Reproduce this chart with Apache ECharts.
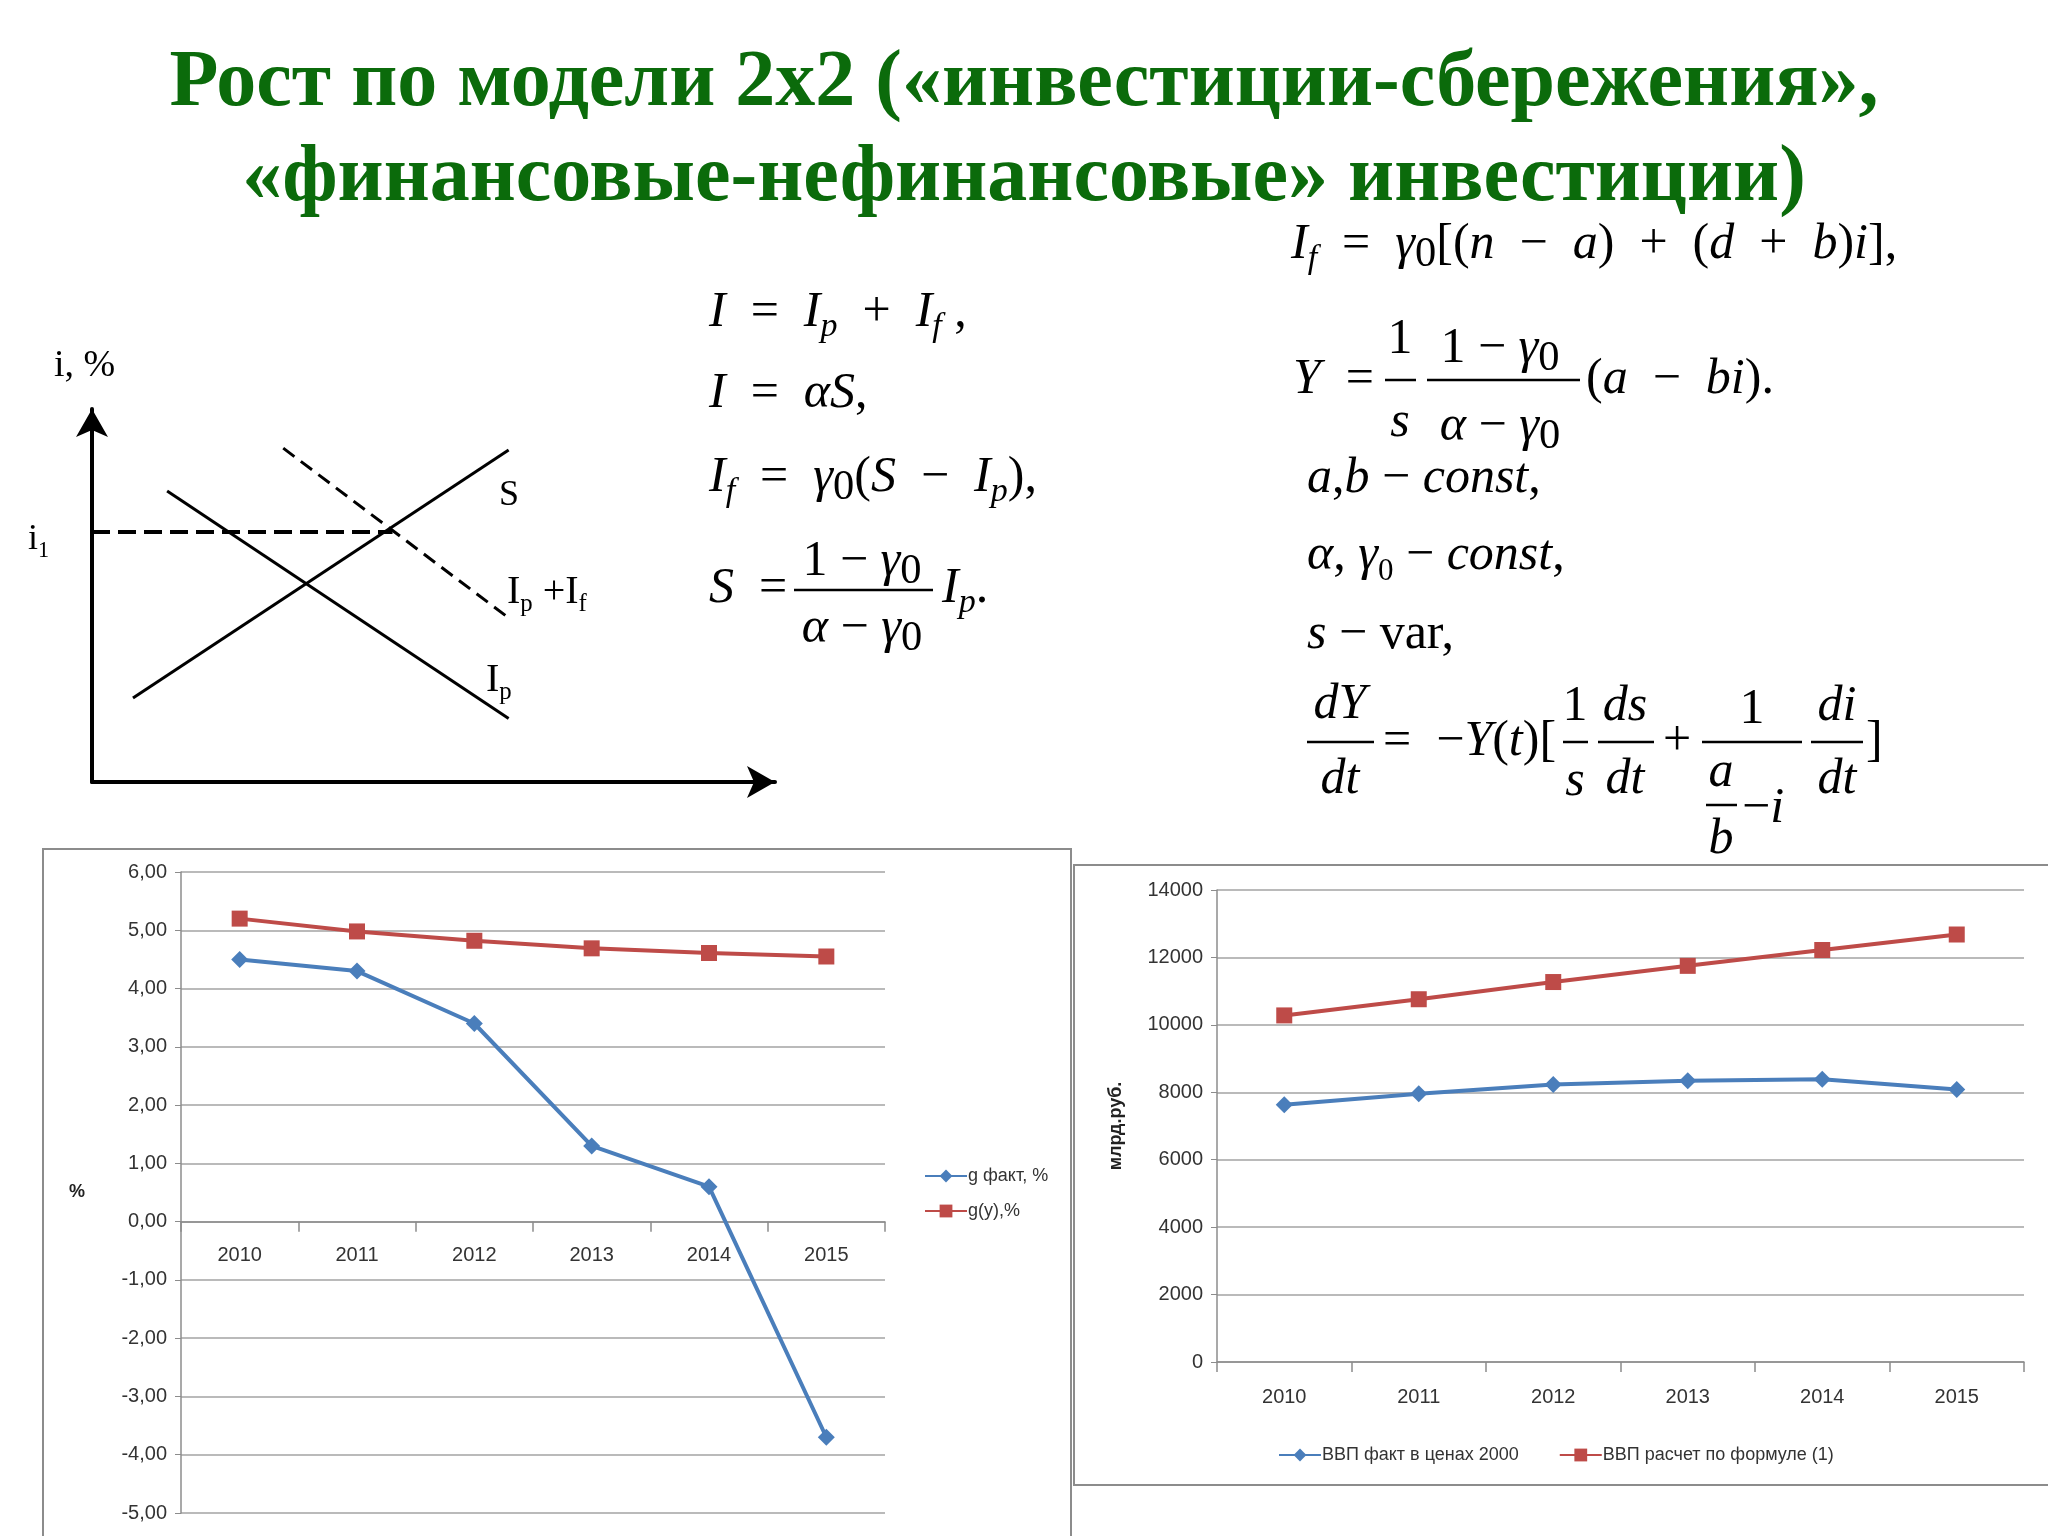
<!DOCTYPE html>
<html lang="ru">
<head>
  <meta charset="UTF-8">
  <title>Рост по модели 2x2</title>
  <style>
    * { margin: 0; padding: 0; box-sizing: border-box; }
    body { background: #fff; }
    #main { width: 2048px; height: 1536px; }
  </style>
</head>
<body>
  <div id="main"></div>

  <script src="https://cdn.jsdelivr.net/npm/echarts@6/dist/echarts.min.js"></script>
  <script>
    // данные графиков
    const years = ['2010', '2011', '2012', '2013', '2014', '2015'];
    const gFact = [4.5, 4.3, 3.4, 1.3, 0.6, -3.7];
    const gY = [5.2, 4.98, 4.82, 4.69, 4.61, 4.55];
    const gdpFact = [7630, 7960, 8230, 8340, 8390, 8080];
    const gdpCalc = [10280, 10760, 11270, 11750, 12220, 12680];

    // схема S / Ip / Ip+If (условные единицы 0..100)
    const sLine = [[6, 22.5], [61, 89]];
    const ipLine = [[11, 78], [61, 17]];
    const ipIfLine = [[28, 89.5], [61, 44]];
    const i1Line = [[0, 67], [44, 67]];

    const BLUE = '#4A7EBB';
    const RED = '#BE4B48';
    const GRID = '#a3a3a3';
    const F = "'Liberation Serif','Times New Roman',serif";
    const SANS = "'Liberation Sans', Arial, sans-serif";
    const E = '\u2002'; // широкий пробел вокруг знаков

    function rich(sz) {
      const base = { fontFamily: F, fontSize: sz, lineHeight: sz * 1.25, color: '#000' };
      return {
        i:  { ...base, fontStyle: 'italic' },
        n:  { ...base },
        sb: { fontFamily: F, fontStyle: 'italic', fontSize: sz * 0.68, lineHeight: sz * 0.6, verticalAlign: 'bottom', color: '#000' },
        sn: { fontFamily: F, fontSize: sz * 0.62, lineHeight: sz * 0.58, verticalAlign: 'bottom', color: '#000' },
        z:  { fontFamily: F, fontSize: sz * 0.85, lineHeight: sz * 0.95, verticalAlign: 'bottom', color: '#000' }
      };
    }
    function tx(x, y, text, sz, align) {
      return { type: 'text', x: x, y: y, style: { text: text, rich: rich(sz), align: align || 'left', verticalAlign: 'middle' } };
    }
    function bar(x1, x2, y) {
      return { type: 'line', shape: { x1: x1, y1: y, x2: x2, y2: y }, style: { stroke: '#000', lineWidth: 2.5 } };
    }

    const FS = 50;
    const TITLE_FONT = "bold 80px 'Liberation Serif'";
    const graphics = [
      // заголовок
      { type: 'text', x: 1024, y: 84, style: { text: 'Рост по модели 2x2 («инвестиции-сбережения»,', font: TITLE_FONT, fill: '#0b6b0b', align: 'center', verticalAlign: 'middle' } },
      { type: 'text', x: 1024, y: 179, style: { text: '«финансовые-нефинансовые» инвестиции)', font: TITLE_FONT, fill: '#0b6b0b', align: 'center', verticalAlign: 'middle' } },

      // рамки графиков
      { type: 'rect', shape: { x: 43, y: 849, width: 1028, height: 700 }, style: { fill: 'none', stroke: '#8c8c8c', lineWidth: 2 } },
      { type: 'rect', shape: { x: 1074, y: 865, width: 980, height: 620 }, style: { fill: 'none', stroke: '#8c8c8c', lineWidth: 2 } },

      // подписи схемы
      tx(54, 366, '{n|i, %}', 38),
      tx(28, 540, '{n|i}{sn|1}', 36),
      tx(499, 496, '{n|S}', 36),
      tx(507, 592, '{n|I}{sn|p}{n| +I}{sn|f}', 40),
      tx(486, 680, '{n|I}{sn|p}', 40),

      // левая колонка формул
      tx(709, 313, `{i|I}{n|${E}=${E}}{i|I}{sb|p}{n|${E}+${E}}{i|I}{sb|f}{n| ,}`, FS),
      tx(709, 394, `{i|I}{n|${E}=${E}}{i|αS}{n|,}`, FS),
      tx(709, 478, `{i|I}{sb|f}{n|${E}=${E}}{i|γ}{z|0}{n|(}{i|S}{n|${E}−${E}}{i|I}{sb|p}{n|),}`, FS),
      tx(709, 589, `{i|S}{n|${E}=}`, FS),
      tx(862, 562, '{n|1 − }{i|γ}{z|0}', FS, 'center'),
      bar(794, 933, 590),
      tx(862, 629, '{i|α}{n| − }{i|γ}{z|0}', FS, 'center'),
      tx(942, 589, '{i|I}{sb|p}{n|.}', FS),

      // правая колонка формул
      tx(1291, 245, `{i|I}{sb|f}{n|${E}=${E}}{i|γ}{z|0}{n|[(}{i|n}{n|${E}−${E}}{i|a}{n|)${E}+${E}(}{i|d}{n|${E}+${E}}{i|b}{n|)}{i|i}{n|],}`, FS),
      tx(1293, 380, `{i|Y}{n|${E}=}`, FS),
      tx(1400, 340, '{n|1}', FS, 'center'),
      bar(1385, 1416, 380),
      tx(1400, 423, '{i|s}', FS, 'center'),
      tx(1500, 349, '{n|1 − }{i|γ}{z|0}', FS, 'center'),
      bar(1427, 1580, 380),
      tx(1500, 427, '{i|α}{n| − }{i|γ}{z|0}', FS, 'center'),
      tx(1586, 380, `{n|(}{i|a}{n|${E}−${E}}{i|bi}{n|).}`, FS),
      tx(1307, 479, '{i|a}{n|,}{i|b}{n| − }{i|const}{n|,}', FS),
      tx(1307, 556, '{i|α}{n|, }{i|γ}{sn|0}{n| − }{i|const}{n|,}', FS),
      tx(1307, 635, '{i|s}{n| − var,}', FS),

      tx(1340, 705, '{i|dY}', FS, 'center'),
      bar(1307, 1374, 742),
      tx(1340, 780, '{i|dt}', FS, 'center'),
      tx(1383, 742, `{n|=${E}−}{i|Y}{n|(}{i|t}{n|)[}`, FS),
      tx(1575, 707, '{n|1}', FS, 'center'),
      bar(1563, 1588, 742),
      tx(1575, 782, '{i|s}', FS, 'center'),
      tx(1625, 707, '{i|ds}', FS, 'center'),
      bar(1598, 1654, 742),
      tx(1625, 780, '{i|dt}', FS, 'center'),
      tx(1677, 742, '{n|+}', FS, 'center'),
      tx(1752, 710, '{n|1}', FS, 'center'),
      bar(1702, 1802, 742),
      tx(1721, 773, '{i|a}', FS, 'center'),
      bar(1706, 1737, 805),
      tx(1721, 840, '{i|b}', FS, 'center'),
      tx(1742, 809, '{n|−}{i|i}', FS),
      tx(1837, 707, '{i|di}', FS, 'center'),
      bar(1811, 1863, 742),
      tx(1837, 780, '{i|dt}', FS, 'center'),
      tx(1866, 742, '{n|]}', FS)
    ];

    const axisLabelStyle = { color: '#333', fontSize: 20, fontFamily: SANS };
    const grayLine = { show: true, onZero: false, lineStyle: { color: '#8c8c8c', width: 1.5 } };

    // сетка левого графика: ось X проходит по нулю
    const g1 = { left: 181, top: 872, width: 704, height: 641 };
    const g1Min = -5, g1Max = 6;
    const zeroOffset = -g1.height * (0 - g1Min) / (g1Max - g1Min);

    const chart = echarts.init(document.getElementById('main'));
    chart.setOption({
      animation: false,
      backgroundColor: '#fff',
      graphic: graphics,
      grid: [
        { left: 92, top: 409, width: 683, height: 373 },
        g1,
        { left: 1217, top: 890, width: 807, height: 472 }
      ],
      xAxis: [
        {
          gridIndex: 0, type: 'value', min: 0, max: 100,
          axisLine: { show: true, onZero: false, symbol: ['none', 'arrow'], symbolSize: [24, 28], lineStyle: { color: '#000', width: 4 } },
          axisTick: { show: false }, axisLabel: { show: false }, splitLine: { show: false }
        },
        {
          gridIndex: 1, type: 'category', data: years, offset: zeroOffset,
          axisLine: grayLine,
          axisTick: { show: true, length: 10, lineStyle: { color: '#8c8c8c', width: 1.5 } },
          axisLabel: { ...axisLabelStyle, margin: 24 }
        },
        {
          gridIndex: 2, type: 'category', data: years,
          axisLine: grayLine,
          axisTick: { show: true, length: 10, lineStyle: { color: '#8c8c8c', width: 1.5 } },
          axisLabel: { ...axisLabelStyle, margin: 25 }
        }
      ],
      yAxis: [
        {
          gridIndex: 0, type: 'value', min: 0, max: 100,
          axisLine: { show: true, onZero: false, symbol: ['none', 'arrow'], symbolSize: [24, 28], lineStyle: { color: '#000', width: 4 } },
          axisTick: { show: false }, axisLabel: { show: false }, splitLine: { show: false }
        },
        {
          gridIndex: 1, type: 'value', min: g1Min, max: g1Max, interval: 1,
          name: '%', nameLocation: 'middle', nameRotate: 0, nameGap: 96,
          nameTextStyle: { fontSize: 18, fontWeight: 'bold', color: '#222', fontFamily: SANS },
          axisLine: grayLine,
          axisTick: { show: true, length: 6, lineStyle: { color: '#8c8c8c' } },
          axisLabel: { ...axisLabelStyle, margin: 14, formatter: v => v.toFixed(2).replace('.', ',') },
          splitLine: { lineStyle: { color: GRID, width: 1.5 } }
        },
        {
          gridIndex: 2, type: 'value', min: 0, max: 14000, interval: 2000,
          name: 'млрд.руб.', nameLocation: 'middle', nameGap: 92,
          nameTextStyle: { fontSize: 18, fontWeight: 'bold', color: '#222', fontFamily: SANS },
          axisLine: grayLine,
          axisTick: { show: true, length: 6, lineStyle: { color: '#8c8c8c' } },
          axisLabel: { ...axisLabelStyle, margin: 14, formatter: v => String(v) },
          splitLine: { lineStyle: { color: GRID, width: 1.5 } }
        }
      ],
      legend: [
        {
          data: ['g факт, %', 'g(y),%'], orient: 'vertical', left: 919, top: 1162,
          itemGap: 17, itemWidth: 42, itemHeight: 16,
          textStyle: { fontSize: 18, color: '#333', fontFamily: SANS, padding: [0, 0, 0, -4] }
        },
        {
          data: ['ВВП факт в ценах 2000', 'ВВП расчет по формуле (1)'], orient: 'horizontal', left: 1273, top: 1441,
          itemGap: 40, itemWidth: 42, itemHeight: 16,
          textStyle: { fontSize: 18, color: '#333', fontFamily: SANS, padding: [0, 0, 0, -4] }
        }
      ],
      series: [
        // схема
        { type: 'line', xAxisIndex: 0, yAxisIndex: 0, data: sLine, showSymbol: false, lineStyle: { color: '#000', width: 3 } },
        { type: 'line', xAxisIndex: 0, yAxisIndex: 0, data: ipLine, showSymbol: false, lineStyle: { color: '#000', width: 3 } },
        { type: 'line', xAxisIndex: 0, yAxisIndex: 0, data: ipIfLine, showSymbol: false, lineStyle: { color: '#000', width: 3, type: [14, 8] } },
        { type: 'line', xAxisIndex: 0, yAxisIndex: 0, data: i1Line, showSymbol: false, lineStyle: { color: '#000', width: 4, type: [18, 8] } },

        // темпы роста
        {
          name: 'g факт, %', type: 'line', xAxisIndex: 1, yAxisIndex: 1, data: gFact,
          symbol: 'diamond', symbolSize: 17, color: BLUE, lineStyle: { width: 4 }
        },
        {
          name: 'g(y),%', type: 'line', xAxisIndex: 1, yAxisIndex: 1, data: gY,
          symbol: 'rect', symbolSize: 16, color: RED, lineStyle: { width: 4 }
        },

        // ВВП
        {
          name: 'ВВП факт в ценах 2000', type: 'line', xAxisIndex: 2, yAxisIndex: 2, data: gdpFact,
          symbol: 'diamond', symbolSize: 17, color: BLUE, lineStyle: { width: 4 }
        },
        {
          name: 'ВВП расчет по формуле (1)', type: 'line', xAxisIndex: 2, yAxisIndex: 2, data: gdpCalc,
          symbol: 'rect', symbolSize: 16, color: RED, lineStyle: { width: 4 }
        }
      ]
    });
  </script>
</body>
</html>
